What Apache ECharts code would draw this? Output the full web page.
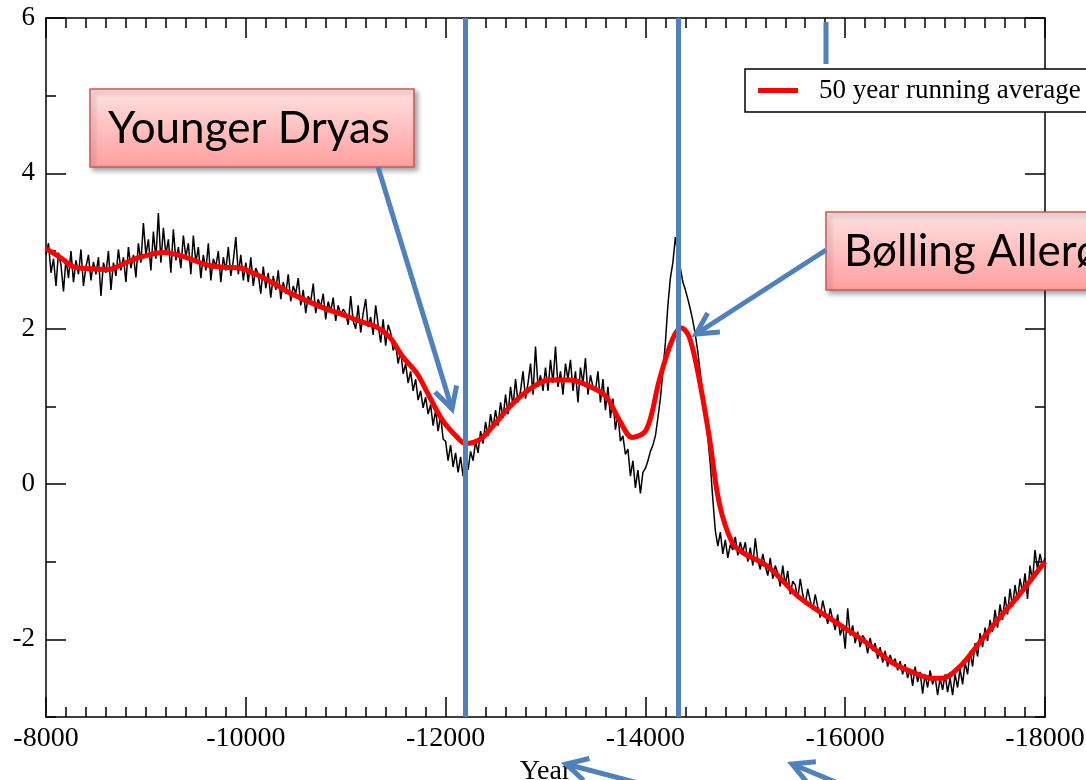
<!DOCTYPE html>
<html><head><meta charset="utf-8">
<script src="https://cdn.jsdelivr.net/npm/echarts@6/dist/echarts.min.js"></script>
<style>html,body{margin:0;padding:0;background:#fff}#c{width:1086px;height:780px}</style>
</head><body><div id="c"></div>
<script>
// ---- data ----
const xMin = -18000, xMax = -8000, xStep = 2000;
const yMajorTicks = [-2, 0, 2, 4, 6];
const markerYears = [-12200, -14330];           // blue vertical lines
const legendName = '50 year running average';
const axisName = 'Year';

// raw (black) series: one value every 25 years, starting at -8000
const rawStartYear = -8000, rawStepYears = -25;
const rawValues = [
 2.95,3.1,2.72,2.9,2.55,2.98,2.82,2.48,2.9,2.65,3.0,2.6,2.88,2.7,3.02,2.55,2.8,2.95,2.62,2.86,
 2.7,2.92,2.42,2.85,2.72,3.0,2.5,2.85,2.68,3.02,2.75,2.92,2.6,3.05,2.78,2.95,2.66,3.1,2.85,3.36,
 2.95,3.15,2.75,3.25,2.9,3.49,2.85,3.3,2.95,3.15,2.72,3.28,2.88,3.05,2.78,3.2,2.92,3.1,2.7,3.2,
 2.85,3.05,2.65,2.95,2.75,3.1,2.62,2.9,2.8,3.0,2.6,2.92,2.75,3.05,2.68,2.88,3.18,2.7,2.95,2.62,
 2.85,2.6,2.92,2.55,2.78,2.7,2.45,2.8,2.52,2.72,2.4,2.68,2.5,2.75,2.38,2.6,2.45,2.7,2.35,2.55,
 2.45,2.65,2.3,2.5,2.2,2.42,2.35,2.58,2.2,2.38,2.28,2.45,2.12,2.35,2.22,2.4,2.1,2.3,2.18,2.25,
 2.2,2.05,2.42,2.1,2.0,2.3,1.95,2.2,2.38,2.02,2.15,1.92,2.3,2.05,1.82,2.12,1.78,2.05,1.95,1.72,
 1.8,1.55,1.72,1.42,1.55,1.3,1.45,1.2,1.35,1.08,1.2,0.98,1.12,0.9,1.02,0.75,0.95,0.68,0.88,0.58,
 0.55,0.3,0.5,0.22,0.4,0.15,0.35,0.1,0.3,0.18,0.42,0.3,0.55,0.4,0.68,0.52,0.8,0.62,0.9,0.72,
 0.95,0.75,1.05,0.85,1.15,0.9,1.25,1.0,1.35,1.05,1.2,1.45,1.1,1.3,1.55,1.15,1.77,1.25,1.4,1.2,
 1.5,1.2,1.6,1.3,1.77,1.25,1.45,1.15,1.55,1.35,1.6,1.2,1.45,1.05,1.5,1.3,1.62,1.15,1.4,1.25,
 1.2,1.45,1.05,1.35,0.95,1.25,0.85,1.1,0.7,0.9,0.55,0.62,0.38,0.45,0.1,0.3,-0.05,0.18,-0.12,0.15,
 0.2,0.3,0.42,0.5,0.62,0.85,1.1,1.45,1.82,2.3,2.65,2.85,3.18,2.95,2.78,2.6,2.5,2.38,2.25,2.1,
 1.92,1.7,1.42,1.15,0.85,0.6,0.25,-0.2,-0.6,-0.8,-0.62,-0.9,-0.72,-0.95,-0.78,-0.85,-0.68,-0.92,-0.75,-0.88,
 -0.75,-1.0,-0.82,-1.05,-0.7,-0.98,-1.1,-0.9,-1.05,-1.18,-0.95,-1.22,-1.05,-1.15,-1.32,-1.05,-1.3,-1.12,-1.42,-1.25,
 -1.3,-1.48,-1.22,-1.42,-1.55,-1.35,-1.5,-1.62,-1.42,-1.58,-1.72,-1.5,-1.65,-1.8,-1.6,-1.75,-1.88,-1.68,-1.95,-1.82,
 -2.12,-1.6,-1.95,-1.82,-2.05,-1.9,-2.1,-1.95,-2.0,-2.18,-1.98,-2.15,-2.05,-2.25,-2.1,-2.3,-2.15,-2.35,-2.2,-2.3,
 -2.25,-2.4,-2.28,-2.45,-2.32,-2.5,-2.38,-2.6,-2.35,-2.55,-2.42,-2.7,-2.45,-2.62,-2.4,-2.58,-2.48,-2.72,-2.5,-2.65,
 -2.45,-2.68,-2.5,-2.72,-2.45,-2.62,-2.38,-2.58,-2.3,-2.45,-2.15,-2.35,-2.05,-2.22,-1.92,-2.1,-1.85,-2.02,-1.75,-1.9,
 -1.62,-1.85,-1.55,-1.75,-1.45,-1.68,-1.35,-1.58,-1.3,-1.5,-1.22,-1.4,-1.15,-1.48,-1.05,-1.25,-0.85,-1.1,-0.9,-1.05,
 -0.95
];

// 50 year running average (red)
const avgYears = [-8000,-8150,-8270,-8450,-8610,-8750,-8870,-9030,-9170,-9370,-9610,-9800,-9940,-10100,-10270,-10440,-10540,-10770,-10950,-11110,-11310,-11440,-11570,-11710,-11840,-11970,-12110,-12200,-12340,-12470,-12640,-12810,-13040,-13240,-13470,-13610,-13740,-13870,-14010,-14140,-14270,-14360,-14440,-14540,-14640,-14740,-14870,-14970,-15210,-15340,-15540,-15870,-16210,-16470,-16670,-16870,-16970,-17140,-17340,-17540,-17740,-17910,-18000];
const avgValues = [3.03,2.91,2.80,2.77,2.76,2.82,2.89,2.95,2.98,2.93,2.82,2.79,2.78,2.70,2.59,2.46,2.40,2.27,2.19,2.11,2.02,1.89,1.64,1.43,1.12,0.82,0.61,0.52,0.57,0.74,0.99,1.19,1.34,1.34,1.24,1.12,0.82,0.60,0.70,1.34,1.86,2.01,1.89,1.34,0.60,-0.25,-0.76,-0.88,-1.05,-1.20,-1.46,-1.75,-2.04,-2.30,-2.42,-2.50,-2.50,-2.36,-2.05,-1.73,-1.43,-1.15,-1.00];

// ---- build ----
const rawData = rawValues.map((v, i) => [rawStartYear + i * rawStepYears, v]);
const avgData = avgYears.map((y, i) => [y, avgValues[i]]);

const SERIF = '"Liberation Serif","Times New Roman",serif';
const BLUE = '#4F81BD';
const axisLineStyle = { color: '#000', width: 1.5 };
const plainNum = v => String(v);

function xAxisCfg(pos, showLabel) {
  return {
    type: 'value', position: pos, gridIndex: 0, min: xMin, max: xMax, interval: xStep, inverse: true,
    axisLine: { show: true, onZero: false, lineStyle: axisLineStyle },
    axisTick: { show: true, inside: true, length: 20, lineStyle: axisLineStyle },
    minorTick: { show: true, splitNumber: 10, length: 10, lineStyle: axisLineStyle },
    splitLine: { show: false }, minorSplitLine: { show: false },
    axisLabel: { show: showLabel, formatter: plainNum, fontFamily: SERIF, fontSize: 28, color: '#000', margin: 8 },
    name: showLabel ? axisName : '', nameLocation: 'middle', nameGap: 38,
    nameTextStyle: { fontFamily: SERIF, fontSize: 28, color: '#000' }
  };
}
function yAxisMajor(pos, showLabel) {
  return {
    type: 'value', position: pos, gridIndex: 0, min: -3, max: 6, interval: 1,
    axisLine: { show: true, onZero: false, lineStyle: axisLineStyle },
    axisTick: { show: true, inside: true, length: 20, customValues: yMajorTicks, lineStyle: axisLineStyle },
    splitLine: { show: false },
    axisLabel: { show: showLabel, customValues: yMajorTicks, formatter: plainNum, fontFamily: SERIF, fontSize: 27, color: '#000', margin: 11 }
  };
}
function yAxisMinor(pos) {
  return {
    type: 'value', position: pos, gridIndex: 1, min: -3, max: 6, interval: 1,
    axisLine: { show: false },
    axisTick: { show: true, inside: true, length: 10, lineStyle: axisLineStyle },
    splitLine: { show: false }, axisLabel: { show: false }
  };
}

const gridBox = { left: 46, right: 41, top: 18, bottom: 63, containLabel: false, outerBoundsMode: 'none' };

function arrow(x1, y1, x2, y2, head) {
  const els = [{
    type: 'line', z: 100, silent: true,
    shape: { x1, y1, x2, y2 },
    style: { stroke: BLUE, lineWidth: 5, lineCap: 'butt' }
  }];
  if (head) {
    const dx = x1 - x2, dy = y1 - y2, L = Math.hypot(dx, dy);
    const ux = dx / L, uy = dy / L, a = 28 * Math.PI / 180, len = 24;
    const c = Math.cos(a), s = Math.sin(a);
    const p1 = [x2 + len * (ux * c - uy * s), y2 + len * (ux * s + uy * c)];
    const p2 = [x2 + len * (ux * c + uy * s), y2 + len * (-ux * s + uy * c)];
    els.push({
      type: 'polyline', z: 100, silent: true,
      shape: { points: [p1, [x2, y2], p2] },
      style: { stroke: BLUE, lineWidth: 5, fill: null, lineJoin: 'miter', lineCap: 'butt' }
    });
  }
  return els;
}

function calloutBox(x, y, w, h, text) {
  return [{
    type: 'rect', z: 100, silent: true,
    shape: { x, y, width: w, height: h },
    style: {
      fill: new echarts.graphic.LinearGradient(0, 0, 0, 1, [
        { offset: 0, color: '#FFE2E2' }, { offset: 1, color: '#FF9E9E' }
      ]),
      stroke: '#C85A58', lineWidth: 1.5,
      shadowBlur: 5, shadowOffsetX: 3, shadowOffsetY: 3, shadowColor: 'rgba(0,0,0,0.35)'
    }
  }, {
    type: 'text', z: 101, silent: true,
    style: {
      x: x + 18, y: y + h / 2 + 1, text, fill: '#000',
      font: '44px Lato, "Open Sans", sans-serif', textVerticalAlign: 'middle', textAlign: 'left'
    }
  }];
}

const chart = echarts.init(document.getElementById('c'), null, { renderer: 'canvas' });
chart.setOption({
  animation: false,
  backgroundColor: '#fff',
  grid: [Object.assign({}, gridBox), Object.assign({}, gridBox)],
  xAxis: [
    xAxisCfg('bottom', true),
    xAxisCfg('top', false),
    { type: 'value', gridIndex: 1, min: xMin, max: xMax, show: false }
  ],
  yAxis: [
    yAxisMajor('left', true),
    yAxisMajor('right', false),
    yAxisMinor('left'),
    yAxisMinor('right')
  ],
  legend: {
    data: [legendName], left: 745, top: 69, orient: 'horizontal',
    icon: 'rect', itemWidth: 40, itemHeight: 5,
    padding: [8, 20, 8, 13], borderColor: '#000', borderWidth: 1.5, borderRadius: 0,
    backgroundColor: '#fff', selectedMode: false, z: 20,
    textStyle: { fontFamily: SERIF, fontSize: 27, color: '#000', padding: [0, 0, 0, 16] }
  },
  series: [
    {
      name: 'raw', type: 'line', xAxisIndex: 0, yAxisIndex: 0, data: rawData,
      showSymbol: false, z: 2, lineStyle: { color: '#000', width: 1.5 }, itemStyle: { color: '#000' }
    },
    {
      name: legendName, type: 'line', xAxisIndex: 0, yAxisIndex: 0, data: avgData,
      showSymbol: false, smooth: 0.35, z: 3,
      lineStyle: { color: '#FF0000', width: 5 }, itemStyle: { color: '#FF0000' }
    },
    {
      name: 'markers', type: 'line', xAxisIndex: 0, yAxisIndex: 0, data: [], z: 5,
      markLine: {
        silent: true, symbol: 'none', animation: false,
        label: { show: false },
        lineStyle: { color: BLUE, width: 5, type: 'solid' },
        data: markerYears.map(y => ({ xAxis: y }))
      }
    }
  ],
  graphic: [].concat(
    calloutBox(90, 89, 324, 78, 'Younger Dryas'),
    calloutBox(826, 212, 420, 78, 'Bølling Allerød'),
    arrow(378, 167, 452, 409, true),
    arrow(826, 250, 696, 334, true),
    arrow(826, 22, 826, 64, false),
    arrow(642, 784, 566, 764, true),
    arrow(840, 784, 792, 764, true)
  )
});
</script>
</body></html>
